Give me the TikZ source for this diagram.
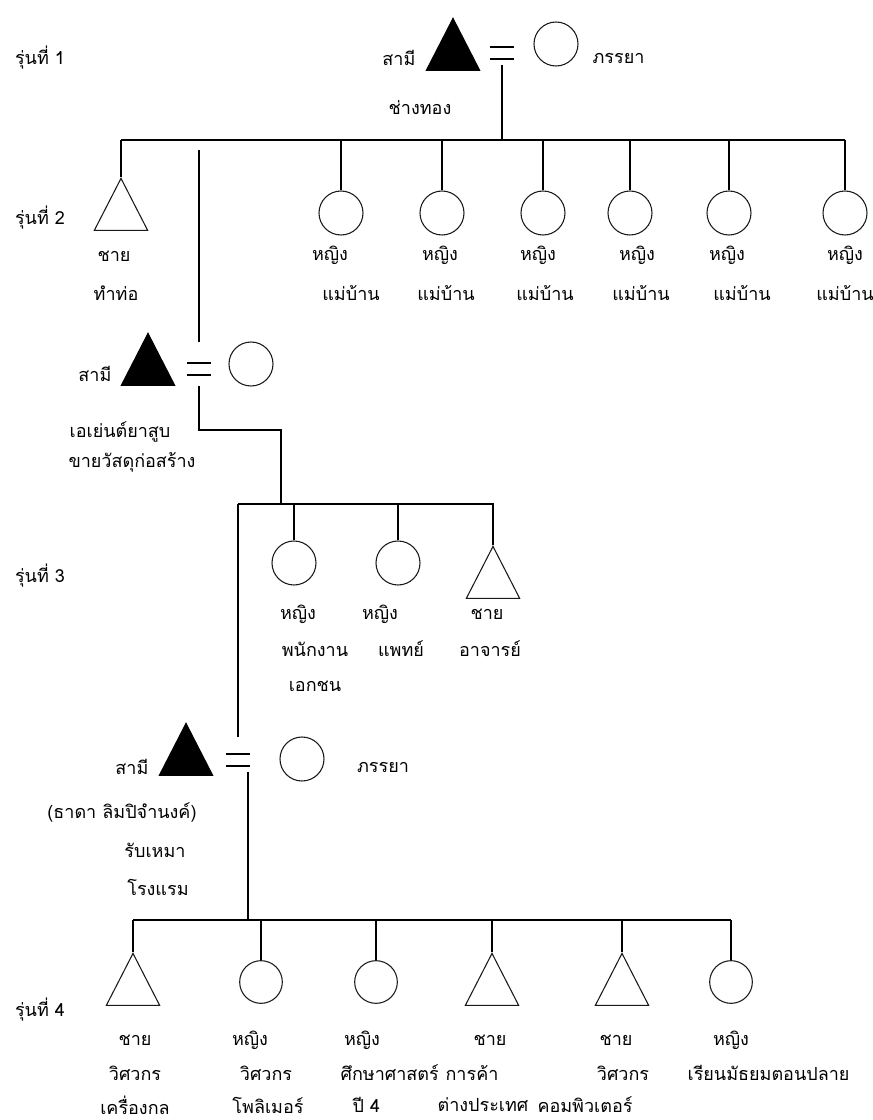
\documentclass[tikz,border=0pt]{standalone}
\usepackage{fontspec}
\newfontfamily\thaifont[Script=Thai]{Loma}
\usepackage{tikz}
\usetikzlibrary{shapes.geometric,positioning}
\definecolor{kinline}{gray}{0.1}

\tikzset{
  male/.style={draw=kinline, isosceles triangle, isosceles triangle stretches,
    shape border rotate=90, minimum width=40pt, minimum height=39pt,
    inner sep=0pt, line width=0.8pt},
  husband/.style={male, fill=black, draw=black},
  female/.style={draw=kinline, circle, minimum size=33pt, inner sep=0pt, line width=0.8pt},
  marry/.style={minimum width=18pt, minimum height=11pt, inner sep=0pt,
    path picture={
      \draw[line width=1.5pt]
        ([yshift=-1pt]path picture bounding box.north west) -- ([yshift=-1pt]path picture bounding box.north east)
        ([yshift=1pt]path picture bounding box.south west) -- ([yshift=1pt]path picture bounding box.south east);}},
  lbl/.style={font=\thaifont\fontsize{13.5}{16}\selectfont, inner sep=0pt, text=black},
}

\begin{document}
\begin{tikzpicture}[x=0.75pt,y=-0.75pt,line width=0.9pt]
\useasboundingbox (0,0) rectangle (872,1120);

% generation 1
\node[lbl] (gen1) at (40,58) {รุ่นที่ 1};
\node[husband, anchor=apex] (h1) at (453,17) {};
\node[lbl, anchor=east] (h1t) at (416,58) {สามี};
\node[marry] (eq1) at (502,53) {};
\node[female] (w1) at (556,44) {};
\node[lbl, anchor=west] (w1t) at (592,58) {ภรรยา};
\node[lbl] (h1job) at (420,108) {ช่างทอง};
\coordinate (bar1w) at (121,140);
\coordinate (bar1e) at (845,140);
\draw ([yshift=-3pt]eq1.south) -- (eq1.south |- bar1w);
\draw (bar1w) -- (bar1e);

% generation 2
\node[lbl] (gen2) at (40,218) {รุ่นที่ 2};
\node[male, anchor=apex] (s21) at (121,177) {};
\draw (s21.apex) -- (s21.apex |- bar1w);
\node[lbl] (s21a) at (114,256) {ชาย};
\node[lbl] (s21b) at (116,293) {ทำท่อ};
\foreach \i/\x/\a/\b in {2/341/330/351, 3/442/440/446, 4/543/538/545,
                         5/630/637/641, 6/729/727/742, 7/845/845/845}{
  \node[female] (d2\i) at (\x,213) {};
  \draw (d2\i.north) -- (d2\i.north |- bar1w);
  \node[lbl] (d2\i a) at (\a,255) {หญิง};
  \node[lbl] (d2\i b) at (\b,293) {แม่บ้าน};
}

% married-in couple of generation 2
\coordinate (top2) at (199,150);
\node[husband, anchor=apex] (h2) at (148,332) {};
\node[lbl, anchor=east] (h2t) at (112,374) {สามี};
\node[marry] (eq2) at (199,369) {};
\node[female] (w2) at (251,364) {};
\node[lbl] (h2job) at (120,432) {เอเย่นต์ยาสูบ};
\node[lbl] (h2job2) at (132,462) {ขายวัสดุก่อสร้าง};
\coordinate (bar2w) at (238,504);
\coordinate (bar2c) at (281,504);
\coordinate (bar2e) at (494,504);
\draw (top2) -- ([yshift=14pt]eq2.north);
\draw ([yshift=-7pt]eq2.south) -- (eq2.south |- 0,430) -| (bar2c);
\draw (bar2w) -- (bar2e);

% generation 3
\node[lbl] (gen3) at (40,576) {รุ่นที่ 3};
\node[female] (d31) at (294,563) {};
\node[female] (d32) at (398,563) {};
\node[male, anchor=apex] (s33) at (493,545) {};
\draw (d31.north) -- (d31.north |- bar2w);
\draw (d32.north) -- (d32.north |- bar2w);
\draw (s33.apex) -- (s33.apex |- bar2w);
\node[lbl] (d31a) at (298,614) {หญิง};
\node[lbl] (d31b) at (315,649) {พนักงาน};
\node[lbl] (d31c) at (315,686) {เอกชน};
\node[lbl] (d32a) at (380,614) {หญิง};
\node[lbl] (d32b) at (401,649) {แพทย์};
\node[lbl] (s33a) at (487,614) {ชาย};
\node[lbl] (s33b) at (490,649) {อาจารย์};

% couple of generation 3
\node[husband, anchor=apex] (h3) at (186,722) {};
\node[lbl, anchor=east] (h3t) at (149,767) {สามี};
\node[marry] (eq3) at (238,760) {};
\node[female] (w3) at (302,759) {};
\node[lbl] (w3t) at (383,767) {ภรรยา};
\node[lbl] (h3name) at (122,812) {(ธาดา ลิมปิจำนงค์)};
\node[lbl] (h3job) at (155,850) {รับเหมา};
\node[lbl] (h3job2) at (158,887) {โรงแรม};
\coordinate (bar3w) at (133,920);
\coordinate (bar3e) at (731,920);
\draw (bar2w) -- ([yshift=11pt]eq3.north);
\draw ([xshift=7.5pt,yshift=-3pt]eq3.south) -- ([xshift=7.5pt]eq3.south |- bar3w);
\draw (bar3w) -- (bar3e);

% generation 4
\node[lbl] (gen4) at (40,1010) {รุ่นที่ 4};
\node[male, anchor=apex] (s41) at (133,952) {};
\node[female, minimum size=32pt] (d42) at (261,982) {};
\node[female, minimum size=32pt] (d43) at (376,982) {};
\node[male, anchor=apex] (s44) at (492,952) {};
\node[male, anchor=apex] (s45) at (622,952) {};
\node[female, minimum size=32pt] (d46) at (731,982) {};
\foreach \k/\a in {s41/apex, d42/north, d43/north, s44/apex, s45/apex, d46/north}
  \draw (\k.\a) -- (\k.\a |- bar3w);
\node[lbl] (s41a) at (135,1040) {ชาย};
\node[lbl] (s41b) at (135,1073) {วิศวกร};
\node[lbl] (s41c) at (135,1105) {เครื่องกล};
\node[lbl] (d42a) at (250,1040) {หญิง};
\node[lbl] (d42b) at (266,1073) {วิศวกร};
\node[lbl] (d42c) at (268,1105) {โพลิเมอร์};
\node[lbl] (d43a) at (362,1040) {หญิง};
\node[lbl, anchor=west] (d43b) at (340,1073) {ศึกษาศาสตร์};
\node[lbl, anchor=west] (d43c) at (352,1105) {ปี 4};
\node[lbl] (s44a) at (490,1040) {ชาย};
\node[lbl, anchor=west] (s44b) at (445,1073) {การค้า};
\node[lbl] (s44c) at (483,1105) {ต่างประเทศ};
\node[lbl] (s45a) at (616,1040) {ชาย};
\node[lbl] (s45b) at (623,1073) {วิศวกร};
\node[lbl] (s45c) at (585,1105) {คอมพิวเตอร์};
\node[lbl] (d46a) at (731,1040) {หญิง};
\node[lbl, anchor=west] (d46b) at (687,1073) {เรียนมัธยมตอนปลาย};
\end{tikzpicture}
\end{document}
